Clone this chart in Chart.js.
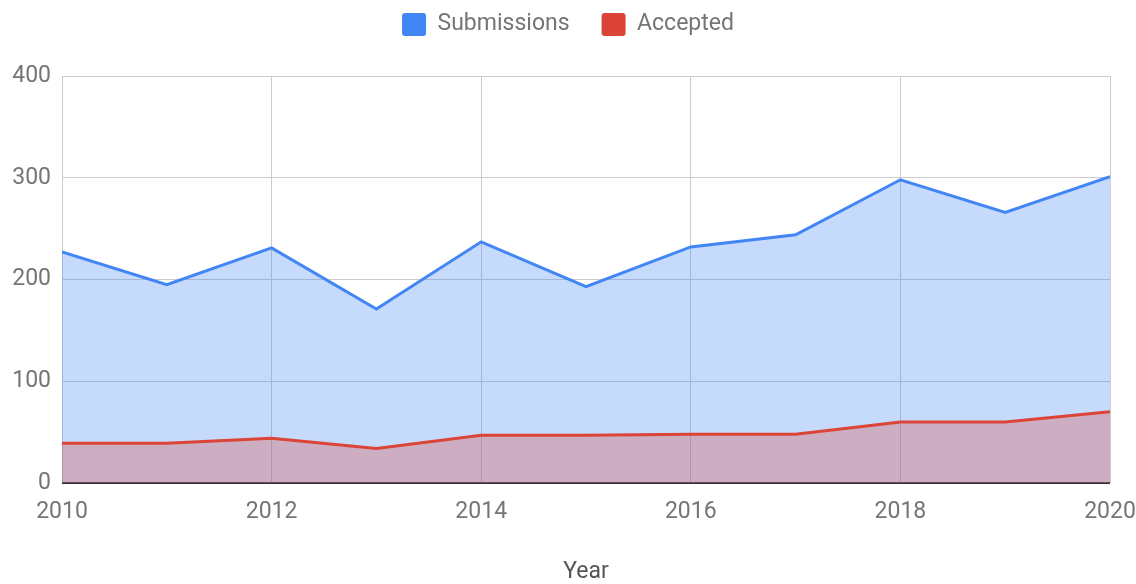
<!DOCTYPE html>
<html>
<head>
<meta charset="utf-8">
<script src="https://cdn.jsdelivr.net/npm/chart.js@4/dist/chart.umd.min.js"></script>
<style>
  html, body { margin: 0; padding: 0; background: #fff; }
  #wrap { width: 1136px; height: 584px; position: relative; }
</style>
</head>
<body>
<div id="wrap"><canvas id="area-chart"></canvas></div>
<script>
// values
var years = [2010, 2011, 2012, 2013, 2014, 2015, 2016, 2017, 2018, 2019, 2020];
var submissions = [227, 195, 231, 171, 237, 193, 232, 244, 298, 266, 301];
var accepted = [39, 39, 44, 34, 47, 47, 48, 48, 60, 60, 70];
var yTicks = [0, 100, 200, 300, 400];
var xTicks = [2010, 2012, 2014, 2016, 2018, 2020];

function toPoints(vals) {
  return years.map(function (y, i) { return { x: y, y: vals[i] }; });
}

Chart.defaults.font.family = 'Roboto, "Noto Sans", sans-serif';
Chart.defaults.font.size = 23;
Chart.defaults.color = '#757575';

// legend padding is big (wide gap between items), so stretch its box and start it above the canvas edge
var legendGap = {
  id: 'legendGap',
  beforeLayout: function (chart) {
    var lg = chart.legend;
    if (!lg || lg._gapWrapped) return;
    var origFit = lg.fit;
    lg.fit = function () {
      origFit.apply(this, arguments);
      this.height += 30;
    };
    lg._gapWrapped = true;
  }
};

var canvas = document.getElementById('area-chart');
var areaChart = new Chart(canvas, {
  type: 'line',
  data: {
    datasets: [{
      label: 'Submissions',
      data: toPoints(submissions),
      borderColor: '#4285F4',
      backgroundColor: 'rgba(66, 133, 244, 0.3)',
      borderWidth: 3,
      pointRadius: 0,
      fill: 'origin',
      tension: 0,
      order: 1
    }, {
      label: 'Accepted',
      data: toPoints(accepted),
      borderColor: '#DB4437',
      backgroundColor: 'rgba(219, 68, 55, 0.3)',
      borderWidth: 3,
      pointRadius: 0,
      fill: 'origin',
      tension: 0,
      order: 0
    }]
  },
  plugins: [legendGap],
  options: {
    responsive: true,
    maintainAspectRatio: false,
    animation: false,
    layout: { padding: { top: -20, left: 0, right: 0, bottom: 0 } },
    plugins: {
      tooltip: { enabled: false },
      legend: {
        position: 'top',
        align: 'center',
        labels: {
          boxWidth: 24,
          boxHeight: 23,
          padding: 32,
          useBorderRadius: true,
          borderRadius: 3,
          sort: function (a, b) { return a.datasetIndex - b.datasetIndex; },
          generateLabels: function (chart) {
            var items = Chart.defaults.plugins.legend.labels.generateLabels(chart);
            items.forEach(function (it) {
              it.fillStyle = it.strokeStyle;
              it.lineWidth = 0;
            });
            return items;
          }
        }
      }
    },
    scales: {
      x: {
        type: 'linear',
        min: 2010,
        max: 2020,
        afterBuildTicks: function (scale) {
          scale.ticks = xTicks.map(function (v) { return { value: v }; });
        },
        afterFit: function (scale) {
          scale.height = 101;
          scale.paddingRight = 26;
        },
        ticks: {
          padding: 15,
          maxRotation: 0,
          callback: function (v) { return String(v); }
        },
        grid: { color: '#cccccc', lineWidth: 1, drawTicks: false },
        border: { display: false },
        title: {
          display: true,
          text: 'Year',
          color: '#555555',
          font: { size: 23, lineHeight: 1.0 },
          padding: { top: 0, bottom: 0 }
        }
      },
      y: {
        min: 0,
        max: 400,
        afterBuildTicks: function (scale) {
          scale.ticks = yTicks.map(function (v) { return { value: v }; });
        },
        afterFit: function (scale) {
          scale.width = 62;
          scale.paddingTop = 76;
        },
        ticks: { padding: 11 },
        grid: {
          drawTicks: false,
          color: function (ctx) { return ctx.tick && ctx.tick.value === 0 ? '#333333' : '#cccccc'; },
          lineWidth: function (ctx) { return ctx.tick && ctx.tick.value === 0 ? 2 : 1; }
        },
        border: { display: false }
      }
    }
  }
});
</script>
</body>
</html>
